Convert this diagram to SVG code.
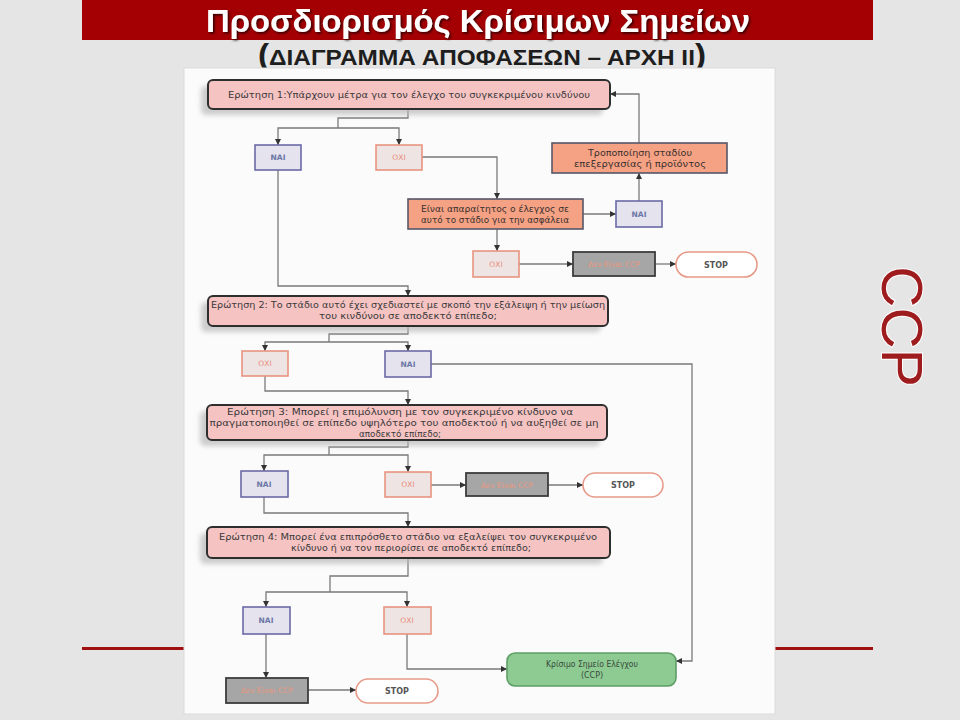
<svg xmlns="http://www.w3.org/2000/svg" width="960" height="720" viewBox="0 0 960 720">
<defs>
<filter id="sh" x="-10%" y="-50%" width="120%" height="200%"><feGaussianBlur stdDeviation="2.5"/></filter>
<filter id="tsh" x="-5%" y="-20%" width="110%" height="150%"><feDropShadow dx="1.5" dy="1.5" stdDeviation="1" flood-color="#000" flood-opacity="0.7"/></filter>
<marker id="ah" markerUnits="userSpaceOnUse" markerWidth="7" markerHeight="7" refX="6" refY="3.5" orient="auto"><path d="M0,0.5 L6,3.5 L0,6.5 Z" fill="#333"/></marker>
</defs>
<style>
.t{font-family:"Liberation Sans",Arial,sans-serif}
.q{fill:#f6c3c3;stroke:#2e2e2e;stroke-width:2}
.qs{fill:#b8b8b8;opacity:0.7;filter:url(#sh)}
.qt{font-family:"DejaVu Sans","Liberation Sans",sans-serif;font-size:8px;fill:#3a3a3a;text-anchor:middle}
.nai{fill:#e5e3ee;stroke:#6a6aa6;stroke-width:1.6}
.nt{font-family:"DejaVu Sans","Liberation Sans",sans-serif;font-size:7.5px;font-weight:bold;fill:#6b77a6;text-anchor:middle}
.oxi{fill:#efe4e4;stroke:#e8937f;stroke-width:1.6}
.ot{font-family:"DejaVu Sans","Liberation Sans",sans-serif;font-size:7.5px;fill:#e88d78;text-anchor:middle}
.pr{fill:#f4a283;stroke:#55586a;stroke-width:1.6}
.pt{font-family:"DejaVu Sans","Liberation Sans",sans-serif;font-size:8px;fill:#3a3030;text-anchor:middle}
.dc{fill:#a6a6a6;stroke:#3c3c3c;stroke-width:1.8}
.dt{font-family:"DejaVu Sans","Liberation Sans",sans-serif;font-size:7.5px;fill:#e8977f;text-anchor:middle}
.st{fill:#ffffff;stroke:#e89a88;stroke-width:1.6}
.stt{font-family:"DejaVu Sans","Liberation Sans",sans-serif;font-size:8px;font-weight:bold;fill:#555;text-anchor:middle}
.cc{fill:#8dcb93;stroke:#5e9f66;stroke-width:1.6}
.ct{font-family:"DejaVu Sans","Liberation Sans",sans-serif;font-size:8px;fill:#3b4a3b;text-anchor:middle}
.ln{fill:none;stroke:#7a7a7a;stroke-width:1.3}
.ar{marker-end:url(#ah)}
</style>
<rect x="0" y="0" width="960" height="720" fill="#e5e5e5"/>
<g id="title">
<rect x="82" y="0" width="791" height="40" fill="#a40003"/>
<text class="t" x="478" y="32" font-size="31" font-weight="bold" fill="#ffffff" text-anchor="middle" textLength="544" lengthAdjust="spacingAndGlyphs" filter="url(#tsh)">Προσδιορισμός Κρίσιμων Σημείων</text>
<text class="t" x="482" y="65" font-size="22" font-weight="bold" fill="#1e1e1e" text-anchor="middle" textLength="448" lengthAdjust="spacingAndGlyphs"><tspan font-size="30">(</tspan>ΔΙΑΓΡΑΜΜΑ ΑΠΟΦΑΣΕΩΝ – ΑΡΧΗ ΙΙ<tspan font-size="30">)</tspan></text>
</g>
<g id="deco">
<rect x="82" y="647" width="102" height="3" fill="#a01010"/>
<rect x="775" y="647" width="98" height="3" fill="#a01010"/>
<text class="t" transform="translate(882,326.5) rotate(90)" font-size="57" fill="#9e1b1e" stroke="#ffffff" stroke-width="2" paint-order="stroke" text-anchor="middle">CCP</text>
</g>
<rect x="184" y="68" width="591" height="646" fill="#fbfbfb" stroke="#dcdcdc" stroke-width="1"/>
<g id="connectors">
<path class="ln" d="M408,109 V118 H338 V128"/>
<path class="ln ar" d="M338,128 H278 V145"/>
<path class="ln ar" d="M338,128 H399 V145"/>
<path class="ln ar" d="M422,157 H497 V199"/>
<path class="ln ar" d="M583,214 H616"/>
<path class="ln ar" d="M639,201 V173"/>
<path class="ln ar" d="M639,143 V94 H610"/>
<path class="ln ar" d="M497,229 V251"/>
<path class="ln ar" d="M519,264 H573"/>
<path class="ln ar" d="M655,264 H676"/>
<path class="ln ar" d="M278,170 V286 H408 V296"/>
<path class="ln" d="M408,326 V334 H329 V342"/>
<path class="ln ar" d="M329,342 H265 V351"/>
<path class="ln ar" d="M329,342 H408 V351"/>
<path class="ln ar" d="M431,364 H692 V661 H676"/>
<path class="ln ar" d="M265,376 V391 H408 V405"/>
<path class="ln" d="M408,440 V447 H329 V455"/>
<path class="ln ar" d="M329,455 H264 V471"/>
<path class="ln ar" d="M329,455 H408 V472"/>
<path class="ln ar" d="M431,485 H466"/>
<path class="ln ar" d="M548,485 H583"/>
<path class="ln ar" d="M264,497 V513 H408 V527"/>
<path class="ln" d="M408,558 V576 H330 V592"/>
<path class="ln ar" d="M330,592 H266 V607"/>
<path class="ln ar" d="M330,592 H407 V607"/>
<path class="ln ar" d="M266,634 V678"/>
<path class="ln ar" d="M308,690 H356"/>
<path class="ln ar" d="M407,634 V669 H507"/>
</g>
<g id="q1">
<rect class="qs" x="201" y="86" width="402" height="29" rx="5"/>
<rect class="q" x="208" y="80" width="402" height="29" rx="5"/>
<text class="qt" x="409" y="98" textLength="362" lengthAdjust="spacingAndGlyphs">Ερώτηση 1:Υπάρχουν μέτρα για τον έλεγχο του συγκεκριμένου κινδύνου</text>
</g>
<g id="nai1"><rect class="nai" x="255" y="145" width="46" height="25"/><text class="nt" x="278" y="160">ΝΑΙ</text></g>
<g id="oxi1"><rect class="oxi" x="376" y="145" width="46" height="25"/><text class="ot" x="399" y="160">ΟΧΙ</text></g>
<g id="anagkaios"><rect class="pr" x="408" y="199" width="175" height="30"/>
<text class="pt" x="495" y="212" textLength="148" lengthAdjust="spacingAndGlyphs">Είναι απαραίτητος ο έλεγχος σε</text>
<text class="pt" x="495" y="223" textLength="148" lengthAdjust="spacingAndGlyphs">αυτό το στάδιο για την ασφάλεια</text></g>
<g id="nai2"><rect class="nai" x="616" y="201" width="46" height="26"/><text class="nt" x="639" y="217">ΝΑΙ</text></g>
<g id="tropopoiisi"><rect class="pr" x="552" y="143" width="175" height="30"/>
<text class="pt" x="640" y="156" textLength="104" lengthAdjust="spacingAndGlyphs">Τροποποίηση σταδίου</text>
<text class="pt" x="640" y="167" textLength="132" lengthAdjust="spacingAndGlyphs">επεξεργασίας ή προϊόντος</text></g>
<g id="oxi2"><rect class="oxi" x="473" y="251" width="46" height="26"/><text class="ot" x="496" y="267">ΟΧΙ</text></g>
<g id="den1"><rect class="dc" x="573" y="252" width="82" height="24"/><text class="dt" x="614" y="267">Δεν Είναι CCP</text></g>
<g id="stop1"><rect class="st" x="676" y="252" width="81" height="25" rx="12.5"/><text class="stt" x="716" y="268">STOP</text></g>
<g id="q2">
<rect class="qs" x="201" y="302" width="400" height="30" rx="5"/>
<rect class="q" x="208" y="296" width="400" height="30" rx="5"/>
<text class="qt" x="408" y="308" textLength="394" lengthAdjust="spacingAndGlyphs">Ερώτηση 2: Το στάδιο αυτό έχει σχεδιαστεί με σκοπό την εξάλειψη ή την μείωση</text>
<text class="qt" x="408" y="319" textLength="178" lengthAdjust="spacingAndGlyphs">του  κινδύνου σε αποδεκτό επίπεδο;</text>
</g>
<g id="oxi3"><rect class="oxi" x="242" y="351" width="46" height="25"/><text class="ot" x="265" y="366">ΟΧΙ</text></g>
<g id="nai3"><rect class="nai" x="385" y="351" width="46" height="26"/><text class="nt" x="408" y="367">ΝΑΙ</text></g>
<g id="q3">
<rect class="qs" x="200" y="411" width="400" height="35" rx="5"/>
<rect class="q" x="207" y="405" width="400" height="35" rx="5"/>
<text class="qt" x="400" y="415" textLength="346" lengthAdjust="spacingAndGlyphs">Ερώτηση 3: Μπορεί η επιμόλυνση με τον συγκεκριμένο κίνδυνο να</text>
<text class="qt" x="404" y="426" textLength="389" lengthAdjust="spacingAndGlyphs">πραγματοποιηθεί   σε επίπεδο υψηλότερο του αποδεκτού ή να αυξηθεί σε μη</text>
<text class="qt" x="400" y="437" textLength="82" lengthAdjust="spacingAndGlyphs">αποδεκτό επίπεδο;</text>
</g>
<g id="nai4"><rect class="nai" x="241" y="471" width="47" height="26"/><text class="nt" x="264" y="487">ΝΑΙ</text></g>
<g id="oxi4"><rect class="oxi" x="385" y="472" width="46" height="25"/><text class="ot" x="408" y="487">ΟΧΙ</text></g>
<g id="den2"><rect class="dc" x="466" y="473" width="82" height="23"/><text class="dt" x="507" y="488">Δεν Είναι CCP</text></g>
<g id="stop2"><rect class="st" x="583" y="473" width="80" height="24" rx="12"/><text class="stt" x="623" y="488">STOP</text></g>
<g id="q4">
<rect class="qs" x="200" y="533" width="403" height="31" rx="5"/>
<rect class="q" x="207" y="527" width="403" height="31" rx="5"/>
<text class="qt" x="408" y="540" textLength="378" lengthAdjust="spacingAndGlyphs">Ερώτηση 4: Μπορεί ένα επιπρόσθετο στάδιο να εξαλείψει τον συγκεκριμένο</text>
<text class="qt" x="411" y="551" textLength="240" lengthAdjust="spacingAndGlyphs">κίνδυνο ή να τον περιορίσει σε αποδεκτό επίπεδο;</text>
</g>
<g id="nai5"><rect class="nai" x="243" y="607" width="47" height="27"/><text class="nt" x="266" y="623">ΝΑΙ</text></g>
<g id="oxi5"><rect class="oxi" x="384" y="607" width="47" height="27"/><text class="ot" x="407" y="623">ΟΧΙ</text></g>
<g id="den3"><rect class="dc" x="226" y="678" width="82" height="25"/><text class="dt" x="267" y="693">Δεν Είναι CCP</text></g>
<g id="stop3"><rect class="st" x="356" y="679" width="82" height="24" rx="12"/><text class="stt" x="397" y="694">STOP</text></g>
<g id="ccp"><rect class="cc" x="507" y="653" width="169" height="33" rx="8"/>
<text class="ct" x="592" y="667" textLength="92" lengthAdjust="spacingAndGlyphs">Κρίσιμο Σημείο Ελέγχου</text>
<text class="ct" x="592" y="678">(CCP)</text></g>
</svg>
